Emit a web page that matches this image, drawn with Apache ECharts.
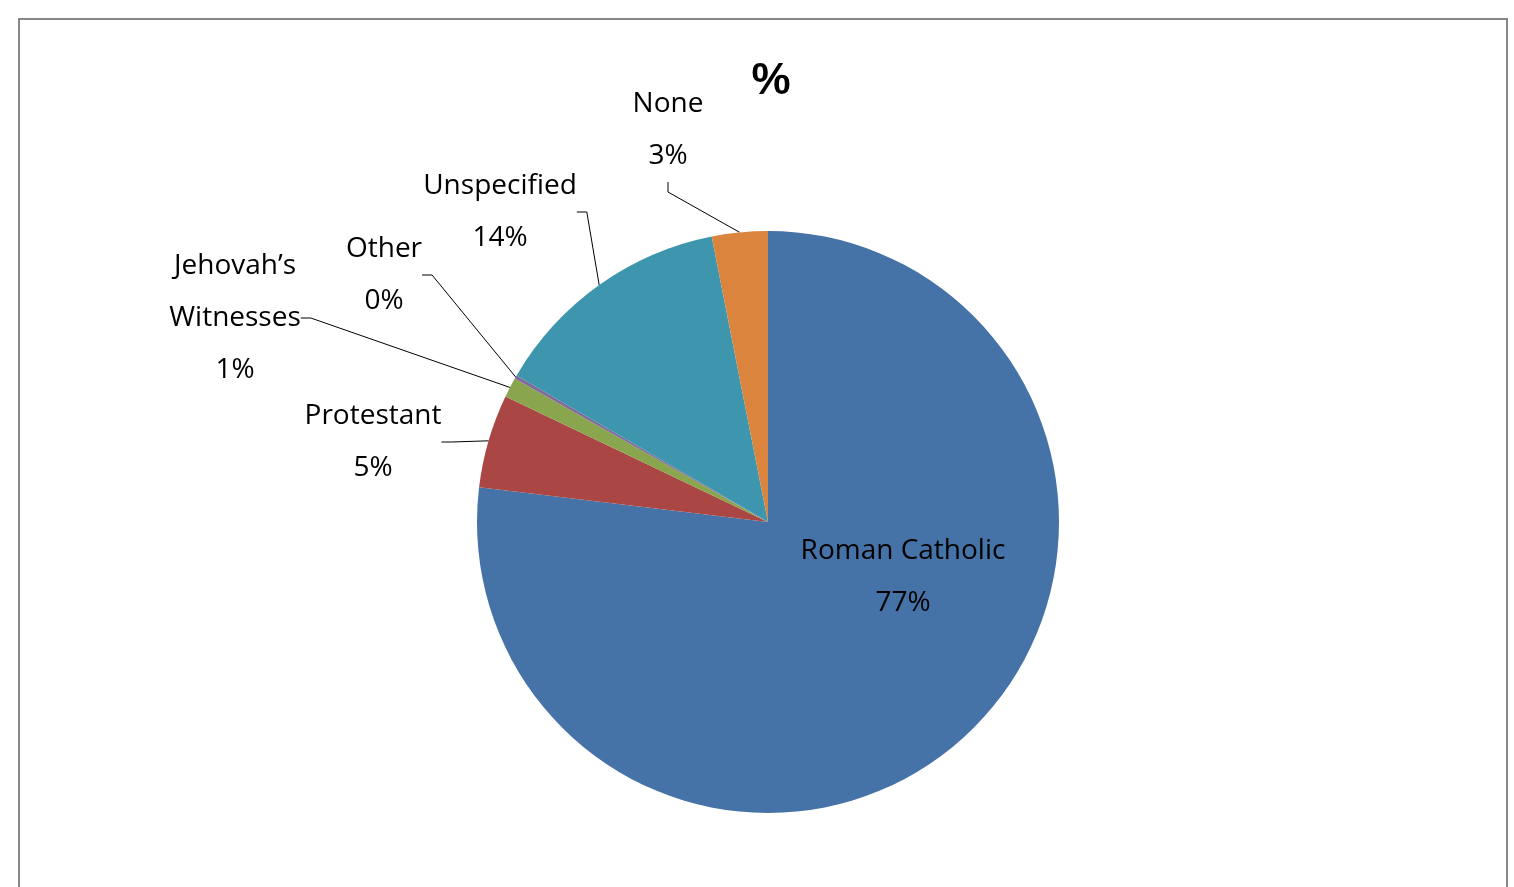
<!DOCTYPE html>
<html><head><meta charset="utf-8">
<script src="https://cdn.jsdelivr.net/npm/echarts@6/dist/echarts.min.js"></script>
<style>html,body{margin:0;padding:0;background:#fff;}
#frame{position:absolute;left:18px;top:18px;width:1490px;height:900px;border:2px solid #878787;box-sizing:border-box;}
#c{position:absolute;left:0;top:0;width:1514px;height:887px;}</style>
</head><body><div id="frame"></div><div id="c"></div>
<script>
const categories = ["Roman Catholic","Protestant","Jehovah\u2019s Witnesses","Other","Unspecified","None"];
const values = [76.9, 5.2, 1.1, 0.2, 13.5, 3.1];
const colors = ["#4572A7","#AA4643","#89A54E","#80699B","#3D96AE","#DB843D"];
const labelNames = ["Roman Catholic","Protestant","Jehovah\u2019s\nWitnesses","Other","Unspecified","None"];
const labelPos = [[903,577],[373,442],[235,318],[384,275],[500,212],[668,130]];
const total = values.reduce((a,b)=>a+b,0);
const chart = echarts.init(document.getElementById('c'));
chart.setOption({
  animation:false,
  title:{text:'%',left:766,top:55,textAlign:'center',textStyle:{fontSize:44,fontWeight:'bold',color:'#000',fontFamily:'Liberation Sans'}},
  series:[{
    type:'pie', center:[768,522], radius:291, startAngle:90, clockwise:true,
    data: categories.map((c,i)=>({name:c,value:values[i],itemStyle:{color:colors[i]}})),
    label:{show:true,position:'outside',color:'#000',fontSize:28,lineHeight:52,fontFamily:'Open Sans',align:'center',
      formatter:p=>labelNames[p.dataIndex]+'\n'+Math.round(p.value/total*100)+'%'},
    labelLine:{show:true,lineStyle:{color:'#000',width:1},length:10,length2:10},
    labelLayout:p=>({x:labelPos[p.dataIndex][0],y:labelPos[p.dataIndex][1],align:'center',verticalAlign:'middle'}),
    emphasis:{disabled:true}
  }]
});
chart.setOption({series:[{data: categories.map((c,i)=>({name:c,value:values[i],itemStyle:{color:colors[i]},
  labelLine:{show:i!==0}}))}]});
</script></body></html>
